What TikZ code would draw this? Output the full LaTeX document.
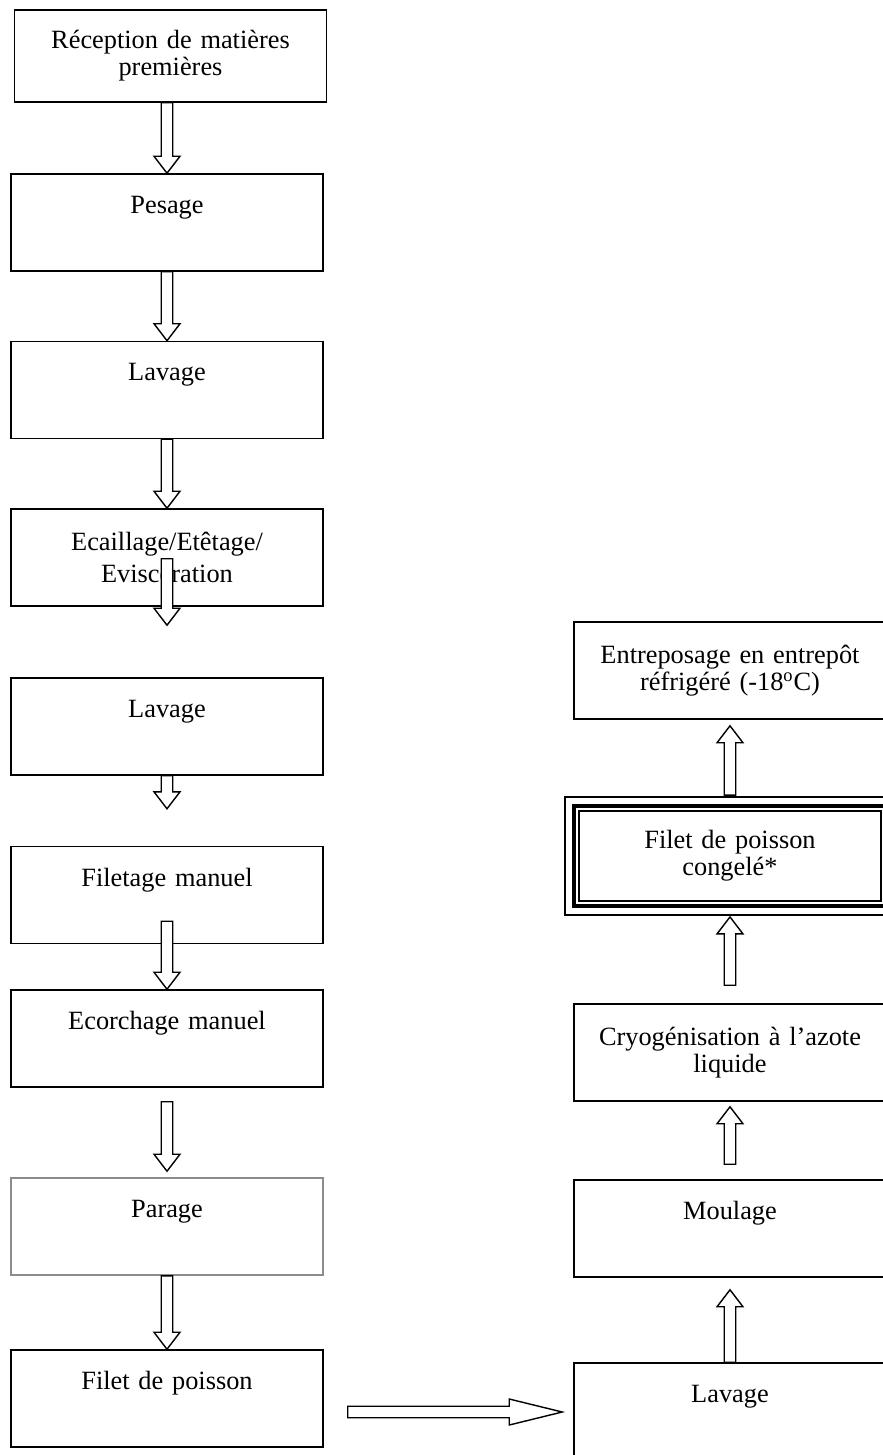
\documentclass[tikz,border=0pt]{standalone}
\usepackage{fontspec}
\setmainfont{Liberation Serif}
\usetikzlibrary{calc,positioning}
\tikzset{stepbox/.style = {rectangle, draw=black, line width=0.9pt, fill=white, minimum width=6.24cm, minimum height=1.94cm, inner sep=0pt, text width=6cm, align=center, font=\fontsize{15}{15.5}\selectfont},
    greybox/.style = {stepbox, draw=black!45},
    frozenbox/.style = {stepbox, line width=2.2pt, minimum height=2cm},
    blockarrow/.style = {draw=black, line width=0.8pt, fill=white, line join=miter}
}
% hollow block arrow: [head length]{from}{to}
\newcommand\BlockArrow[3][0.34cm]{%
    \path (#2)--(#3) coordinate[at start](a1) coordinate[at end](a2);
    \coordinate (a3) at ($(a2)!#1!(a1)$);
    \draw[blockarrow] ($(a1)!0.115cm!90:(a2)$) -- ($(a3)!0.115cm!90:(a2)$) -- ($(a3)!0.26cm!90:(a2)$) -- (a2)
        -- ($(a3)!0.26cm!-90:(a2)$) -- ($(a3)!0.115cm!-90:(a2)$) -- ($(a1)!0.115cm!-90:(a2)$) -- cycle;
    }

\begin{document}
\begin{tikzpicture}[x=0.02cm, y=-0.02cm]
 \useasboundingbox (0,0) rectangle (883,1455);
 % left column
 \node[stepbox, minimum height=1.84cm] (recep) at (170.5,56) {Réception de matières\\premières};
 \node[stepbox] (pesage) at (167,222.5) {Pesage\\\strut};
 \node[stepbox] (lavA) at (167,390) {Lavage\\\strut};
 \node[stepbox] (ecail) at (167,557.5) {Ecaillage/Etêtage/\\[3pt]Eviscération};
 \node[stepbox] (lavB) at (167,726.5) {Lavage\\\strut};
 \node[stepbox] (filetage) at (167,895) {Filetage manuel\\\strut};
 \node[stepbox] (ecorch) at (167,1038.5) {Ecorchage manuel\\\strut};
 \node[greybox] (parage) at (167,1226.5) {Parage\\\strut};
 \node[stepbox] (filet) at (167,1398.5) {Filet de poisson\\\strut};
 % right column
 \node[stepbox] (entrepos) at (730,670.5) {Entreposage en entrepôt\\réfrigéré (-18\textsuperscript{o}C)};
 \node[frozenbox] (congele) at (730,856) {Filet de poisson\\congelé*};
 \draw[line width=0.8pt] ([shift={(-7,-7)}]congele.north west) rectangle ([shift={(7,7)}]congele.south east);
 \draw[line width=0.8pt] ([shift={(7,7)}]congele.north west) rectangle ([shift={(-7,-7)}]congele.south east);
 \node[stepbox] (cryo) at (730,1052.5) {Cryogénisation à l’azote\\liquide};
 \node[stepbox] (moulage) at (730,1228.5) {Moulage\\\strut};
 \node[stepbox] (lavC) at (730,1411.5) {Lavage\\\strut};

 \coordinate (c0) at (recep.south -| pesage.north);
 \coordinate (c1) at ($(ecail.south)+(0,-48)$);
 \coordinate (c2) at ($(lavB.north)+(0,-52)$);
 \coordinate (c3) at ($(filetage.south)+(0,-23)$);
 \coordinate (c4) at ($(ecorch.south)+(0,14)$);
 \coordinate (c5) at ($(parage.north)+(0,-6)$);
 \coordinate (c6) at ($(filet.east)+(24,13.5)$);
 \coordinate (c7) at ($(lavC.west)+(-11,0.5)$);

 \BlockArrow{c0}{pesage.north}
 \BlockArrow{pesage.south}{lavA.north}
 \BlockArrow{lavA.south}{ecail.north}
 \BlockArrow{c1}{c2}
 \BlockArrow{lavB.south}{$(lavB.south)+(0,33)$}
 \BlockArrow{c3}{ecorch.north}
 \BlockArrow{c4}{c5}
 \BlockArrow{parage.south}{filet.north}
 \BlockArrow[1.06cm]{c6}{c7}
 \BlockArrow{lavC.north}{$(moulage.south)+(0,12)$}
 \BlockArrow{$(moulage.north)+(0,-15)$}{$(cryo.south)+(0,5)$}
 \BlockArrow{$(cryo.north)+(0,-18)$}{$(congele.south)+(0,9)$}
 \BlockArrow{$(congele.north)+(0,-9)$}{$(entrepos.south)+(0,6)$}
\end{tikzpicture}
\end{document}
